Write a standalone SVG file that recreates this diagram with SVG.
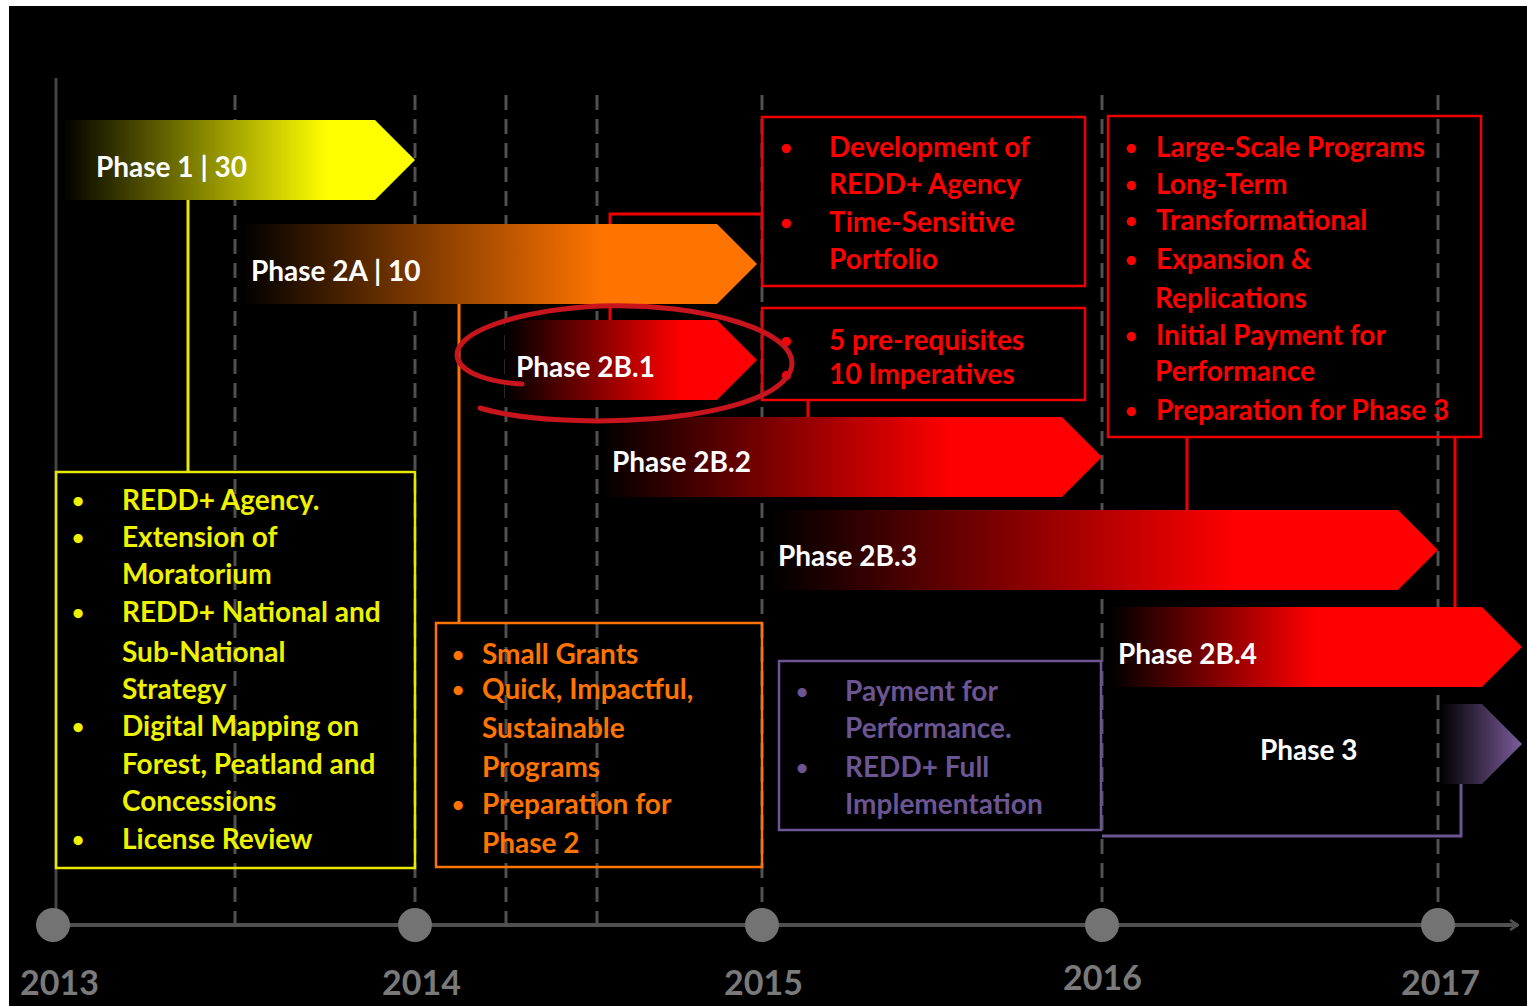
<svg xmlns="http://www.w3.org/2000/svg" width="1527" height="1006" viewBox="0 0 1527 1006">
<defs>
<style>
.grid{stroke:#505050;stroke-width:3;stroke-dasharray:15 9;fill:none}
.lbl{font-family:Lato,"Open Sans","Liberation Sans",sans-serif;font-weight:bold;font-size:28px;fill:#ffffff}
.bt{font-family:Lato,"Open Sans","Liberation Sans",sans-serif;font-weight:bold;font-size:28px}
.bu{font-size:21px}
.yel{fill:#eef200}
.org{fill:#ff7400}
.red{fill:#ff0000}
.pur{fill:#6b5592}
.yr{font-family:Lato,"Open Sans","Liberation Sans",sans-serif;font-weight:bold;font-size:34px;fill:#7a7a7a}
.box{fill:none;stroke-width:2.5}
.con{fill:none;stroke-width:3}
</style>
<linearGradient id="gY" x1="0" y1="0" x2="1" y2="0">
<stop offset="0" stop-color="#000"/><stop offset="0.75" stop-color="#ffff00"/><stop offset="1" stop-color="#ffff00"/>
</linearGradient>
<linearGradient id="gO" x1="0" y1="0" x2="1" y2="0">
<stop offset="0" stop-color="#000"/><stop offset="0.7" stop-color="#ff7400"/><stop offset="1" stop-color="#ff7400"/>
</linearGradient>
<linearGradient id="gR" x1="0" y1="0" x2="1" y2="0">
<stop offset="0" stop-color="#000"/><stop offset="0.7" stop-color="#ff0000"/><stop offset="1" stop-color="#ff0000"/>
</linearGradient>
<linearGradient id="gR2" x1="0" y1="0" x2="1" y2="0">
<stop offset="0" stop-color="#000"/><stop offset="0.5" stop-color="#ff0000"/><stop offset="1" stop-color="#ff0000"/>
</linearGradient>
<linearGradient id="gP" x1="0" y1="0" x2="1" y2="0">
<stop offset="0" stop-color="#000"/><stop offset="1" stop-color="#7a5c9c"/>
</linearGradient>
<marker id="ax" markerWidth="10" markerHeight="12" refX="9" refY="6" orient="auto" markerUnits="userSpaceOnUse">
<path d="M1,1 L9,6 L1,11" fill="none" stroke="#505050" stroke-width="2.5"/>
</marker>
</defs>
<rect x="0" y="0" width="1527" height="1006" fill="#ffffff"/>
<rect x="9" y="6" width="1518" height="1000" fill="#000000"/>

<g id="grid">
<line x1="56" y1="78" x2="56" y2="925" stroke="#444" stroke-width="3"/>
<line class="grid" x1="235" y1="95" x2="235" y2="925"/>
<line class="grid" x1="415" y1="95" x2="415" y2="925"/>
<line class="grid" x1="506" y1="95" x2="506" y2="925"/>
<line class="grid" x1="597" y1="95" x2="597" y2="925"/>
<line class="grid" x1="762" y1="95" x2="762" y2="925"/>
<line class="grid" x1="1102" y1="95" x2="1102" y2="925"/>
<line class="grid" x1="1438" y1="95" x2="1438" y2="925"/>
</g>

<g id="timeline">
<line x1="56" y1="925" x2="1518" y2="925" stroke="#505050" stroke-width="4" marker-end="url(#ax)"/>
<ellipse cx="53" cy="925" rx="17" ry="17" fill="#737373"/>
<ellipse cx="415" cy="925" rx="17" ry="17" fill="#737373"/>
<ellipse cx="762" cy="925" rx="17" ry="17" fill="#737373"/>
<ellipse cx="1102" cy="925" rx="17" ry="17" fill="#737373"/>
<ellipse cx="1438" cy="925" rx="17" ry="17" fill="#737373"/>
<text class="yr" x="20" y="995">2013</text>
<text class="yr" x="382" y="995">2014</text>
<text class="yr" x="724" y="995">2015</text>
<text class="yr" x="1063" y="990">2016</text>
<text class="yr" x="1401" y="995">2017</text>
</g>

<g id="connectors">
<line class="con" x1="188" y1="200" x2="188" y2="472" stroke="#e8e800"/>
<line class="con" x1="459" y1="304" x2="459" y2="623" stroke="#ff7400"/>
<polyline class="con" points="610,320 610,214 762,214" stroke="#ee0000"/>
<line class="con" x1="808" y1="400" x2="808" y2="417" stroke="#ee0000"/>
<line class="con" x1="1187" y1="437" x2="1187" y2="510" stroke="#ee0000"/>
<line class="con" x1="1455" y1="437" x2="1455" y2="607" stroke="#ee0000"/>
<polyline class="con" points="1461,784 1461,836 1102,836" stroke="#6b5592"/>
</g>

<g id="phase1">
<polygon points="63,120 375,120 415,160 375,200 63,200" fill="url(#gY)"/>
<text class="lbl" x="96" y="177">Phase 1 | 30</text>
</g>
<g id="phase2a">
<polygon points="240,224 717,224 757,264 717,304 240,304" fill="url(#gO)"/>
<text class="lbl" x="251" y="281">Phase 2A | 10</text>
</g>
<g id="phase2b1">
<polygon points="505,320 717,320 757,360 717,400 505,400" fill="url(#gR)"/>
<text class="lbl" x="516" y="377">Phase 2B.1</text>
</g>
<g id="phase2b2">
<polygon points="600,417 1062,417 1102,457 1062,497 600,497" fill="url(#gR)"/>
<text class="lbl" x="612" y="472">Phase 2B.2</text>
</g>
<g id="phase2b3">
<polygon points="770,510 1398,510 1438,550 1398,590 770,590" fill="url(#gR)"/>
<text class="lbl" x="778" y="566">Phase 2B.3</text>
</g>
<g id="phase2b4">
<polygon points="1110,607 1482,607 1522,647 1482,687 1110,687" fill="url(#gR2)"/>
<text class="lbl" x="1118" y="664">Phase 2B.4</text>
</g>
<g id="phase3">
<polygon points="1440,704 1482,704 1522,744 1482,784 1440,784" fill="url(#gP)"/>
<text class="lbl" x="1260" y="760">Phase 3</text>
</g>

<g id="box-phase1">
<rect class="box" x="56" y="472" width="359" height="396" stroke="#e8e800"/>
<g class="bt yel">
<text class="bu" x="72" y="508">•</text><text x="122" y="510">REDD+ Agency.</text>
<text class="bu" x="72" y="545">•</text><text x="122" y="547">Extension of</text>
<text x="122" y="584">Moratorium</text>
<text class="bu" x="72" y="620">•</text><text x="122" y="622">REDD+ National and</text>
<text x="122" y="662">Sub-National</text>
<text x="122" y="699">Strategy</text>
<text class="bu" x="72" y="734">•</text><text x="122" y="736">Digital Mapping on</text>
<text x="122" y="774">Forest, Peatland and</text>
<text x="122" y="811">Concessions</text>
<text class="bu" x="72" y="847">•</text><text x="122" y="849">License Review</text>
</g>
</g>

<g id="box-phase2a">
<rect class="box" x="436" y="623" width="326" height="244" stroke="#ff7400"/>
<g class="bt org">
<text class="bu" x="452" y="662">•</text><text x="482" y="664">Small Grants</text>
<text class="bu" x="452" y="697">•</text><text x="482" y="699">Quick, Impactful,</text>
<text x="482" y="738">Sustainable</text>
<text x="482" y="777">Programs</text>
<text class="bu" x="452" y="812">•</text><text x="482" y="814">Preparation for</text>
<text x="482" y="853">Phase 2</text>
</g>
</g>

<g id="box-phase2b1-a">
<rect class="box" x="762" y="117" width="323" height="169" stroke="#ee0000"/>
<g class="bt red">
<text class="bu" x="780" y="155">•</text><text x="829" y="157">Development of</text>
<text x="829" y="194">REDD+ Agency</text>
<text class="bu" x="780" y="230">•</text><text x="829" y="232">Time-Sensitive</text>
<text x="829" y="269">Portfolio</text>
</g>
</g>

<g id="box-phase2b1-b">
<rect class="box" x="762" y="308" width="323" height="92" stroke="#ee0000"/>
<g class="bt red">
<text class="bu" x="780" y="348">•</text><text x="829" y="350">5 pre-requisites</text>
<text class="bu" x="780" y="382">•</text><text x="829" y="384">10 Imperatives</text>
</g>
</g>

<g id="box-phase2b3">
<rect class="box" x="1108" y="116" width="373" height="321" stroke="#ee0000"/>
<g class="bt red">
<text class="bu" x="1125" y="155">•</text><text x="1156" y="157">Large-Scale Programs</text>
<text class="bu" x="1125" y="192">•</text><text x="1156" y="194">Long-Term</text>
<text class="bu" x="1125" y="228">•</text><text x="1156" y="230">Transformational</text>
<text class="bu" x="1125" y="267">•</text><text x="1156" y="269">Expansion &amp;</text>
<text x="1155" y="308">Replications</text>
<text class="bu" x="1125" y="343">•</text><text x="1156" y="345">Initial Payment for</text>
<text x="1155" y="381">Performance</text>
<text class="bu" x="1125" y="418">•</text><text x="1156" y="420">Preparation for Phase 3</text>
</g>
</g>

<g id="box-phase3">
<rect class="box" x="779" y="661" width="322" height="169" stroke="#6b5592"/>
<g class="bt pur">
<text class="bu" x="796" y="699">•</text><text x="845" y="701">Payment for</text>
<text x="845" y="738">Performance.</text>
<text class="bu" x="796" y="775">•</text><text x="845" y="777">REDD+ Full</text>
<text x="845" y="814">Implementation</text>
</g>
</g>

<g id="highlight">
<path d="M480,408 C560,432 765,424 790,372 C808,332 700,302 600,306 C520,310 448,332 458,360 C464,374 490,382 522,384" fill="none" stroke="#c8141c" stroke-width="5" stroke-linecap="round"/>
</g>
</svg>
